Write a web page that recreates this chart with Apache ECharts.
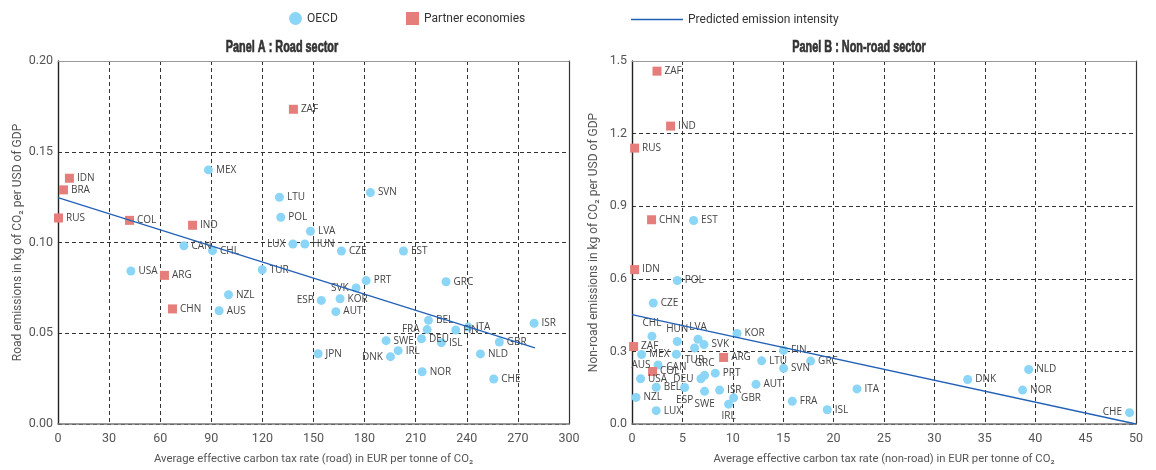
<!DOCTYPE html>
<html>
<head>
<meta charset="utf-8">
<script src="https://cdn.jsdelivr.net/npm/echarts@6/dist/echarts.min.js"></script>
<style>
  html, body { margin: 0; padding: 0; background: #fff; }
  #chart { width: 1156px; height: 470px; }
</style>
</head>
<body>
<div id="chart"></div>
<script>
// Panel A: road sector — tax rate (EUR/tCO2) vs road emissions (kg CO2 per USD of GDP)
const oecdNamesA = ['MEX','CAN','CHL','USA','TUR','NZL','AUS','LTU','POL','LVA','LUX','HUN','CZE','SVN','EST','PRT','SVK','KOR','ESP','AUT','GRC','BEL','FRA','DEU','FIN','ITA','ISL','GBR','ISR','SWE','IRL','DNK','JPN','NLD','NOR','CHE'];
const oecdTaxA   = [88.3, 73.9, 90.7, 42.8, 119.9, 100.1, 94.6, 130.0, 130.8, 148.2, 137.9, 144.9, 166.4, 183.4, 202.8, 180.9, 175.0, 165.6, 154.6, 163.1, 227.8, 217.5, 216.7, 213.4, 233.5, 240.8, 225.1, 259.1, 279.5, 192.6, 199.7, 195.2, 152.7, 248.0, 213.8, 255.8];
const oecdEmisA  = [0.140, 0.0982, 0.0955, 0.0843, 0.0850, 0.0712, 0.0624, 0.1249, 0.1139, 0.1062, 0.0992, 0.0992, 0.0953, 0.1275, 0.0953, 0.0790, 0.0749, 0.0690, 0.0681, 0.0619, 0.0784, 0.0571, 0.0520, 0.0470, 0.0518, 0.0534, 0.0448, 0.0452, 0.0555, 0.0459, 0.0404, 0.0371, 0.0387, 0.0386, 0.0288, 0.0248];
const partnerNamesA = ['IDN','BRA','RUS','COL','IND','ARG','CHN','ZAF'];
const partnerTaxA   = [6.7, 3.2, 0.3, 42.0, 79.0, 62.5, 67.2, 138.2];
const partnerEmisA  = [0.1354, 0.129, 0.1135, 0.1122, 0.1095, 0.0819, 0.0634, 0.1734];
const fitA = [[0, 0.1247], [280, 0.0419]];

// Panel B: non-road sector
const oecdNamesB = ['EST','POL','CZE','KOR','CHL','HUN','LVA','SVK','MEX','CAN','TUR','AUS','USA','BEL','ESP','DEU','GRC','SWE','NZL','LUX','PRT','ISR','GBR','IRL','AUT','LTU','FIN','SVN','GRC','FRA','ISL','ITA','DNK','NLD','NOR','CHE'];
const oecdTaxB   = [6.11, 4.49, 2.11, 10.42, 1.98, 4.49, 6.55, 7.14, 0.95, 4.40, 6.21, 2.58, 0.85, 2.40, 5.22, 6.84, 7.20, 7.20, 0.40, 2.40, 8.26, 8.69, 10.08, 9.58, 12.30, 12.86, 15.04, 15.04, 17.72, 15.90, 19.37, 22.32, 33.30, 39.35, 38.75, 49.36];
const oecdEmisB  = [0.841, 0.593, 0.500, 0.374, 0.363, 0.341, 0.350, 0.328, 0.287, 0.288, 0.314, 0.244, 0.187, 0.152, 0.151, 0.187, 0.201, 0.135, 0.110, 0.055, 0.210, 0.140, 0.108, 0.082, 0.164, 0.261, 0.304, 0.230, 0.260, 0.094, 0.059, 0.145, 0.184, 0.225, 0.140, 0.047];
const partnerNamesB = ['ZAF','IND','RUS','CHN','IDN','ZAF','ARG','COL'];
const partnerTaxB   = [2.48, 3.83, 0.26, 1.94, 0.26, 0.16, 9.09, 2.04];
const partnerEmisB  = [1.458, 1.231, 1.140, 0.844, 0.638, 0.320, 0.275, 0.217];
const fitB = [[0, 0.452], [50, 0.0]];

// Axis ticks
const xTicksA = { min: 0, max: 300, interval: 30 };
const yTicksA = { min: 0, max: 0.2, interval: 0.05 };
const xTicksB = { min: 0, max: 50, interval: 5 };
const yTicksB = { min: 0, max: 1.5, interval: 0.3 };

// Label placement for crowded points (default: right)
const labelSideA = { LUX: 'left', ESP: 'left', SVK: 'left', DNK: 'left', FRA: 'left' };
const labelSideB = { CHL: 'top', HUN: 'top', LVA: 'top', CAN: 'bottom', TUR: 'bottom', AUS: 'left', ESP: 'bottom', DEU: 'left', SWE: 'bottom', IRL: 'bottom', CHE: 'left' };

const BLUE_DOT = '#8bd5f7';
const RED_SQ = '#e57e7a';
const FIT_LINE = '#2361b6';
const AXIS_FONT = 'Roboto, "Liberation Sans", sans-serif';
const LABEL_FONT = '"Open Sans", sans-serif';

function points(names, xs, ys, sides) {
  return names.map((n, i) => {
    const item = { name: n, value: [xs[i], ys[i]] };
    const side = sides[n];
    if (side) item.label = { position: side };
    return item;
  });
}

function scatter(name, data, gIdx, symbol, size, color) {
  return {
    name, type: 'scatter', xAxisIndex: gIdx * 2, yAxisIndex: gIdx * 2,
    symbol, symbolSize: size, data,
    itemStyle: { color, opacity: 1 },
    label: { show: true, formatter: '{b}', position: 'right', distance: 3,
             fontFamily: LABEL_FONT, fontSize: 10, color: '#444' },
    emphasis: { disabled: true }, z: 3
  };
}

function fit(data, gIdx) {
  return {
    name: 'Predicted emission intensity', type: 'line', xAxisIndex: gIdx * 2, yAxisIndex: gIdx * 2,
    data, symbol: 'none', showSymbol: false,
    lineStyle: { color: FIT_LINE, width: 1.3 }, itemStyle: { color: FIT_LINE },
    emphasis: { disabled: true }, z: 4
  };
}

const dashed = { show: true, lineStyle: { color: '#333', type: [4, 3], width: 1 }, showMaxLine: false };

function axesFor(gIdx, xt, yt, xName, yName, yDecimals, yNameGap) {
  const lbl = { fontFamily: AXIS_FONT, fontSize: 12.5, color: '#555' };
  const xNameStyle = { fontFamily: AXIS_FONT, fontSize: 11.3, color: '#555' };
  const yNameStyle = { fontFamily: AXIS_FONT, fontSize: 12, color: '#555' };
  return {
    x: [
      { type: 'value', gridIndex: gIdx, position: 'bottom', min: xt.min, max: xt.max, interval: xt.interval,
        axisLine: { show: true, onZero: false, lineStyle: { color: '#777', width: 1.6 } },
        axisTick: { show: false }, axisLabel: Object.assign({ margin: 8 }, lbl),
        splitLine: dashed, name: xName, nameLocation: 'middle', nameGap: 30, nameTextStyle: xNameStyle },
      { type: 'value', gridIndex: gIdx, position: 'top', min: xt.min, max: xt.max, interval: xt.interval,
        axisLine: { show: true, onZero: false, lineStyle: { color: '#999', width: 1 } },
        axisTick: { show: false }, axisLabel: { show: false }, splitLine: { show: false } }
    ],
    y: [
      { type: 'value', gridIndex: gIdx, position: 'left', min: yt.min, max: yt.max, interval: yt.interval,
        axisLine: { show: true, onZero: false, lineStyle: { color: '#222', width: 1.4 } },
        axisTick: { show: false },
        axisLabel: Object.assign({ margin: 5, formatter: v => v.toFixed(yDecimals) }, lbl),
        splitLine: dashed, name: yName, nameLocation: 'middle', nameGap: yNameGap, nameTextStyle: yNameStyle },
      { type: 'value', gridIndex: gIdx, position: 'right', min: yt.min, max: yt.max, interval: yt.interval,
        axisLine: { show: true, onZero: false, lineStyle: { color: '#333', width: 1.2 } },
        axisTick: { show: false }, axisLabel: { show: false }, splitLine: { show: false } }
    ]
  };
}

const axA = axesFor(0, xTicksA, yTicksA,
  'Average effective carbon tax rate (road) in EUR per tonne of CO\u2082',
  'Road emissions in kg of CO\u2082 per USD of GDP', 2, 34);
const axB = axesFor(1, xTicksB, yTicksB,
  'Average effective carbon tax rate (non-road) in EUR per tonne of CO\u2082',
  'Non-road emissions in kg of CO\u2082 per USD of GDP', 1, 32);

const legendText = { fontFamily: AXIS_FONT, fontSize: 12, color: '#333' };

// Condensed heavy panel headings
function heading(text, cx) {
  return {
    type: 'text', x: cx, y: 47, scaleX: 0.64, silent: true,
    style: { text, fill: '#333', stroke: '#333', lineWidth: 0.7,
             font: 'bold 17px "Liberation Sans", Arial, sans-serif',
             textAlign: 'center', textVerticalAlign: 'middle' }
  };
}

const option = {
  animation: false,
  graphic: [heading('Panel A : Road sector', 282), heading('Panel B : Non-road sector', 859)],
  legend: [
    { data: ['OECD'], left: 289, top: 12, padding: 0, itemWidth: 13, itemHeight: 13, icon: 'circle', textStyle: legendText, selectedMode: false },
    { data: ['Partner economies'], left: 406, top: 12, padding: 0, itemWidth: 13, itemHeight: 13, icon: 'rect', textStyle: legendText, selectedMode: false },
    { data: ['Predicted emission intensity'], left: 631, top: 13.5, padding: 0, itemWidth: 52, itemHeight: 1.4, icon: 'rect', textStyle: legendText, selectedMode: false }
  ],
  grid: [
    { left: 58, width: 511, top: 61, height: 363 },
    { left: 632, width: 504, top: 61, height: 363 }
  ],
  xAxis: [...axA.x, ...axB.x],
  yAxis: [...axA.y, ...axB.y],
  series: [
    fit(fitA, 0),
    scatter('OECD', points(oecdNamesA, oecdTaxA, oecdEmisA, labelSideA), 0, 'circle', 9, BLUE_DOT),
    scatter('Partner economies', points(partnerNamesA, partnerTaxA, partnerEmisA, labelSideA), 0, 'rect', 9, RED_SQ),
    fit(fitB, 1),
    scatter('OECD', points(oecdNamesB, oecdTaxB, oecdEmisB, labelSideB), 1, 'circle', 9, BLUE_DOT),
    scatter('Partner economies', points(partnerNamesB, partnerTaxB, partnerEmisB, labelSideB), 1, 'rect', 9, RED_SQ)
  ]
};

// In panel B the GRC point inside the dense cluster has its label above the marker
option.series[4].data[16].label = { position: 'top' };

const chart = echarts.init(document.getElementById('chart'), null, { renderer: 'canvas' });
chart.setOption(option);
</script>
</body>
</html>
